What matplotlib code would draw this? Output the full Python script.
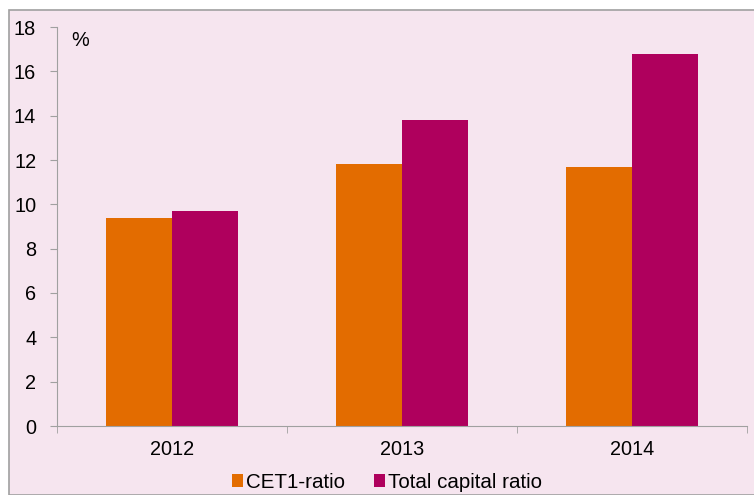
import numpy as np
import matplotlib.pyplot as plt
from matplotlib.patches import Rectangle, Patch

years = ['2012', '2013', '2014']
cet1_ratio = [9.4, 11.8, 11.7]
total_capital_ratio = [9.7, 13.8, 16.8]

orange = '#E36C00'
magenta = '#AF005D'
pink = '#F6E5EF'
grey = '#A0A0A0'

plt.rcParams['font.family'] = ['Liberation Sans', 'DejaVu Sans']

fig = plt.figure(figsize=(7.54, 4.95), dpi=100)
fig.patch.set_facecolor('white')
# pink chart area with grey border
fig.patches.append(Rectangle((9 / 754, 0), 1, 1 - 10 / 495, transform=fig.transFigure,
                             facecolor=pink, edgecolor=grey, linewidth=1.2, zorder=-1))

ax = fig.add_axes([57 / 754, 1 - 426 / 495, 690 / 754, 399 / 495])
ax.set_facecolor('none')
ax.set_zorder(1)

x = np.arange(len(years))
w = 0.287
ax.bar(x - w / 2, cet1_ratio, w, color=orange, label='CET1-ratio')
ax.bar(x + w / 2, total_capital_ratio, w, color=magenta, label='Total capital ratio')

ax.set_xlim(-0.5, len(years) - 0.5)
ax.set_ylim(0, 18)
ax.set_yticks(range(0, 19, 2))
ax.set_xticks(x)
ax.set_xticklabels(years)
ax.set_xticks(np.arange(-0.5, len(years)), minor=True)
ax.tick_params(axis='x', which='major', length=0, pad=10, labelsize=14.3)
ax.tick_params(axis='x', which='minor', length=5, color=grey)
ax.tick_params(axis='y', length=5, color=grey, pad=10, labelsize=14.3)

for side in ['top', 'right']:
    ax.spines[side].set_visible(False)
for side in ['left', 'bottom']:
    ax.spines[side].set_color(grey)

ax.text(0.02, 0.965, '%', transform=ax.transAxes, fontsize=14.3, va='center', ha='left')

handles = [Patch(facecolor=orange, label='CET1-ratio'),
           Patch(facecolor=magenta, label='Total capital ratio')]
fig.legend(handles=handles, loc='center', bbox_to_anchor=(0.513, 0.026), ncol=2,
           frameon=False, fontsize=14.8, handlelength=0.55, handleheight=0.55,
           handletextpad=0.15, columnspacing=1.4)

fig.savefig('out.png', dpi=100, facecolor=fig.get_facecolor())
